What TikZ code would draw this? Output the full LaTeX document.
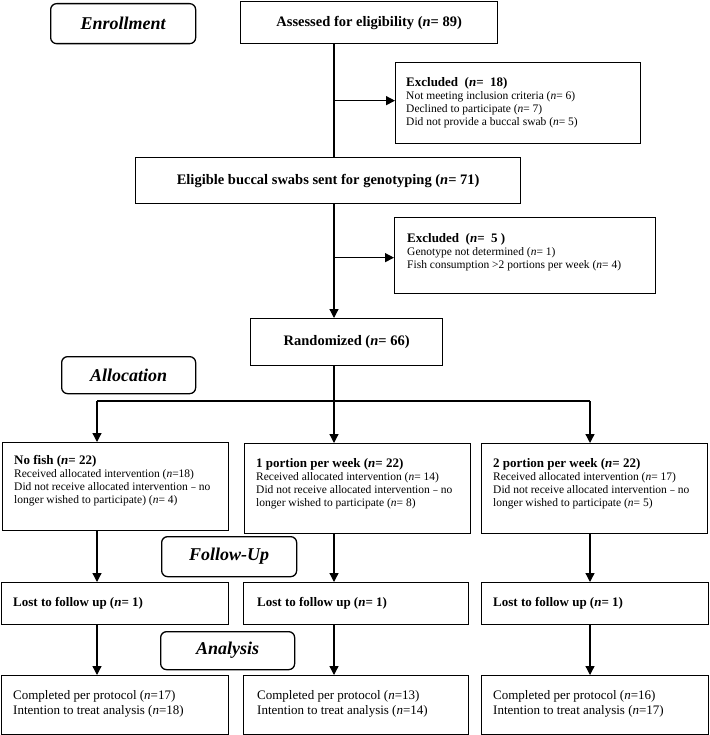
\documentclass[tikz,border=0pt]{standalone}
\usepackage{fontspec}
\setmainfont{Liberation Serif}
\usetikzlibrary{arrows.meta}
\begin{document}
\begin{tikzpicture}[x=1pt,y=-1pt,
  box/.style={draw, line width=1.3pt, inner sep=0pt, anchor=north west},
  stage/.style={draw, line width=1.3pt, rounded corners=6pt, inner sep=0pt, anchor=north west, font=\fontsize{18}{20}\selectfont\bfseries\itshape},
  headtext/.style={font=\fontsize{14.5}{16}\selectfont\bfseries},
  bodytext/.style={anchor=west, inner sep=0pt, align=left, font=\fontsize{11.5}{13}\selectfont},
  finaltext/.style={anchor=west, inner sep=0pt, align=left, font=\fontsize{13}{15.5}\selectfont},
  losttext/.style={anchor=west, inner sep=0pt, font=\fontsize{13}{15}\selectfont\bfseries},
  line/.style={line width=1.3pt},
  arr/.style={line width=1.3pt, -{Triangle[length=9pt,width=9pt]}}]
\useasboundingbox (0,0) rectangle (709,735);
\newcommand{\ttl}[1]{{\fontsize{13}{15}\selectfont\bfseries #1}}
\newcommand{\sdash}{\kern0.5pt\scalebox{0.75}[1]{–}\kern0.5pt}

% columns
\coordinate (colL) at (97,0);
\coordinate (colM) at (334,0);
\coordinate (colR) at (590,0);
\coordinate (hb) at (334,401);

% enrollment
\node[stage, minimum width=145, minimum height=40] (enr) at (50,3) {Enrollment};
\node[box, minimum width=257, minimum height=42, headtext] (ass) at (240,1) {Assessed for eligibility (\textit{n}= 89)};
\node[box, minimum width=245, minimum height=81] (ex1) at (395,62) {};
\node[bodytext] (ex1t) at (406,103) {\ttl{Excluded\ \ (\textit{n}=\ \ 18)}\\ Not meeting inclusion criteria (\textit{n}= 6)\\ Declined to participate (\textit{n}= 7)\\ Did not provide a buccal swab (\textit{n}= 5)};
\node[box, minimum width=385, minimum height=46, headtext] (elig) at (135,157) {Eligible buccal swabs sent for genotyping (\textit{n}= 71)};
\node[box, minimum width=261, minimum height=76] (ex2) at (394,217) {};
\node[bodytext] (ex2t) at (407,252) {\ttl{Excluded\ \ (\textit{n}=\ \ 5 )}\\ Genotype not determined (\textit{n}= 1)\\ Fish consumption >2 portions per week (\textit{n}= 4)};
\node[box, minimum width=192, minimum height=47, headtext] (rand) at (250,318) {Randomized (\textit{n}= 66)};

% allocation
\node[stage, minimum width=134, minimum height=37] (alloc) at (61,356) {Allocation};
\node[box, minimum width=226, minimum height=88] (g1) at (2,442) {};
\node[box, minimum width=226, minimum height=90] (g2) at (244,443) {};
\node[box, minimum width=226, minimum height=90] (g3) at (481,443) {};
\node[bodytext] (g1t) at (14,481) {\ttl{No fish (\textit{n}= 22)}\\ Received allocated intervention (\textit{n}=18)\\ Did not receive allocated intervention \sdash{} no\\ longer wished to participate) (\textit{n}= 4)};
\node[bodytext] (g2t) at (256,484) {\ttl{1 portion per week (\textit{n}= 22)}\\ Received allocated intervention (\textit{n}= 14)\\ Did not receive allocated intervention \sdash{} no\\ longer wished to participate (\textit{n}= 8)};
\node[bodytext] (g3t) at (493,484) {\ttl{2 portion per week (\textit{n}= 22)}\\ Received allocated intervention (\textit{n}= 17)\\ Did not receive allocated intervention \sdash{} no\\ longer wished to participate (\textit{n}= 5)};

% follow-up
\node[stage, minimum width=135, minimum height=40] (fu) at (161,536) {Follow-Up};
\node[box, minimum width=227, minimum height=42] (l1) at (1,582) {};
\node[box, minimum width=225, minimum height=42] (l2) at (243,582) {};
\node[box, minimum width=227, minimum height=42] (l3) at (481,582) {};
\node[losttext] (l1t) at (13,603) {Lost to follow up (\textit{n}= 1)};
\node[losttext] (l2t) at (257,603) {Lost to follow up (\textit{n}= 1)};
\node[losttext] (l3t) at (493,603) {Lost to follow up (\textit{n}= 1)};

% analysis
\node[stage, minimum width=134, minimum height=38] (an) at (160,631) {Analysis};
\node[box, minimum width=227, minimum height=58.5] (f1) at (1,675) {};
\node[box, minimum width=225, minimum height=58.5] (f2) at (243,675) {};
\node[box, minimum width=227, minimum height=58.5] (f3) at (481,675) {};
\node[finaltext] (f1t) at (13,704) {Completed per protocol (\textit{n}=17)\\ Intention to treat analysis (\textit{n}=18)};
\node[finaltext] (f2t) at (257,704) {Completed per protocol (\textit{n}=13)\\ Intention to treat analysis (\textit{n}=14)};
\node[finaltext] (f3t) at (493,704) {Completed per protocol (\textit{n}=16)\\ Intention to treat analysis (\textit{n}=17)};

% connectors
\draw[line] (ass.south -| colM) -- (elig.north -| colM);
\draw[arr] ([yshift=2.5pt]ex1.west -| colM) -- ([yshift=2.5pt]ex1.west);
\draw[arr] (elig.south -| colM) -- (rand.north -| colM);
\draw[arr] ([yshift=-2pt]ex2.west -| colM) -- ([yshift=-2pt]ex2.west);
\draw[line] (hb -| colL) -- (hb -| colR);
\draw[arr] (rand.south -| colM) -- (g2.north -| colM);
\draw[arr] (hb -| colL) -- (g1.north -| colL);
\draw[arr] (hb -| colR) -- (g3.north -| colR);
\draw[arr] (g1.south -| colL) -- (l1.north -| colL);
\draw[arr] (g2.south -| colM) -- (l2.north -| colM);
\draw[arr] (g3.south -| colR) -- (l3.north -| colR);
\draw[arr] (l1.south -| colL) -- (f1.north -| colL);
\draw[arr] (l2.south -| colM) -- (f2.north -| colM);
\draw[arr] (l3.south -| colR) -- (f3.north -| colR);
\end{tikzpicture}
\end{document}
